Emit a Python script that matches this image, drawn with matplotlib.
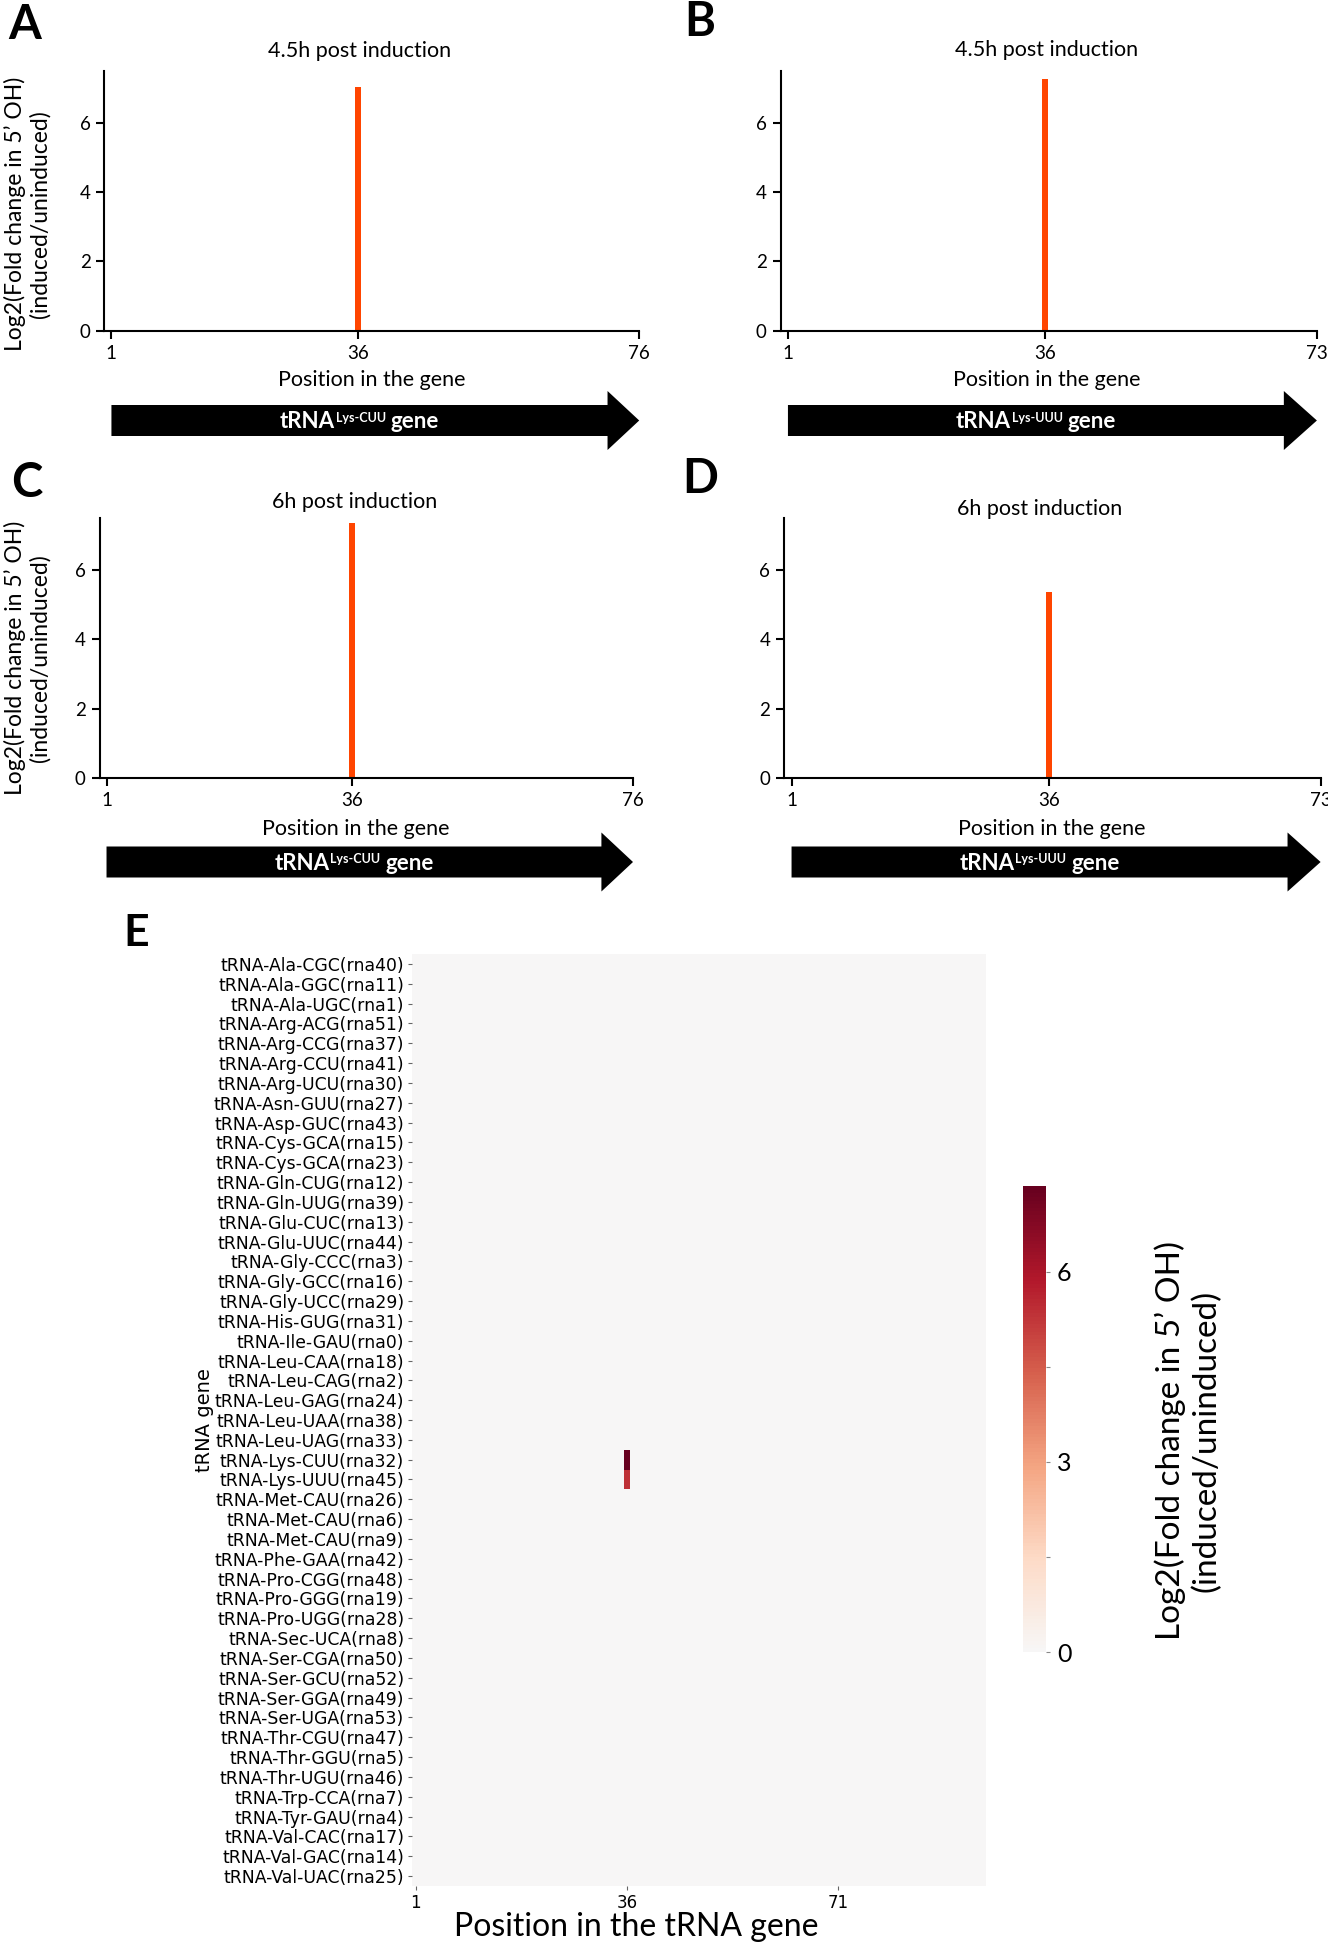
import numpy as np
import matplotlib
matplotlib.use('Agg')
import matplotlib.pyplot as plt
from matplotlib.colors import ListedColormap, Normalize
from matplotlib.patches import Polygon
from matplotlib.transforms import blended_transform_factory

plt.rcParams['font.family'] = ['Lato', 'DejaVu Sans']

# ---- data, panels A-D ----
panel_letters = ['A', 'B', 'C', 'D']
panel_titles = ['4.5h post induction', '4.5h post induction',
                '6h post induction', '6h post induction']
gene_names = ['Lys-CUU', 'Lys-UUU', 'Lys-CUU', 'Lys-UUU']
gene_lengths = [76, 73, 76, 73]
peak_positions = [36, 36, 36, 36]
peak_values = [7.03, 7.25, 7.35, 5.36]
y_ticks = [0, 2, 4, 6]

# ---- data, panel E ----
trna_genes = [
    'tRNA-Ala-CGC(rna40)', 'tRNA-Ala-GGC(rna11)', 'tRNA-Ala-UGC(rna1)',
    'tRNA-Arg-ACG(rna51)', 'tRNA-Arg-CCG(rna37)', 'tRNA-Arg-CCU(rna41)',
    'tRNA-Arg-UCU(rna30)', 'tRNA-Asn-GUU(rna27)', 'tRNA-Asp-GUC(rna43)',
    'tRNA-Cys-GCA(rna15)', 'tRNA-Cys-GCA(rna23)', 'tRNA-Gln-CUG(rna12)',
    'tRNA-Gln-UUG(rna39)', 'tRNA-Glu-CUC(rna13)', 'tRNA-Glu-UUC(rna44)',
    'tRNA-Gly-CCC(rna3)', 'tRNA-Gly-GCC(rna16)', 'tRNA-Gly-UCC(rna29)',
    'tRNA-His-GUG(rna31)', 'tRNA-Ile-GAU(rna0)', 'tRNA-Leu-CAA(rna18)',
    'tRNA-Leu-CAG(rna2)', 'tRNA-Leu-GAG(rna24)', 'tRNA-Leu-UAA(rna38)',
    'tRNA-Leu-UAG(rna33)', 'tRNA-Lys-CUU(rna32)', 'tRNA-Lys-UUU(rna45)',
    'tRNA-Met-CAU(rna26)', 'tRNA-Met-CAU(rna6)', 'tRNA-Met-CAU(rna9)',
    'tRNA-Phe-GAA(rna42)', 'tRNA-Pro-CGG(rna48)', 'tRNA-Pro-GGG(rna19)',
    'tRNA-Pro-UGG(rna28)', 'tRNA-Sec-UCA(rna8)', 'tRNA-Ser-CGA(rna50)',
    'tRNA-Ser-GCU(rna52)', 'tRNA-Ser-GGA(rna49)', 'tRNA-Ser-UGA(rna53)',
    'tRNA-Thr-CGU(rna47)', 'tRNA-Thr-GGU(rna5)', 'tRNA-Thr-UGU(rna46)',
    'tRNA-Trp-CCA(rna7)', 'tRNA-Tyr-GAU(rna4)', 'tRNA-Val-CAC(rna17)',
    'tRNA-Val-GAC(rna14)', 'tRNA-Val-UAC(rna25)',
]
n_positions = 95
hot_genes = ['tRNA-Lys-CUU(rna32)', 'tRNA-Lys-UUU(rna45)']
hot_position = 36
hot_values = [7.35, 5.36]
heat_xticks = [1, 36, 71]
cbar_ticks = [0, 1.5, 3, 4.5, 6]
cbar_ticklabels = ['0', '', '3', '', '6']

ylab = 'Log2(Fold change in 5\u2019 OH)\n(induced/uninduced)'

W, H = 1328, 1943
fig = plt.figure(figsize=(W / 100, H / 100), dpi=100)


def fbox(x0, y0, x1, y1):
    # pixel box (top-left origin) -> figure fraction rect
    return [x0 / W, 1 - y1 / H, (x1 - x0) / W, (y1 - y0) / H]


def ftext(x, y, s, **kw):
    return fig.text(x / W, 1 - y / H, s, **kw)


# layout of the four small panels (pixels)
boxes = [(104.4, 70.6, 639.2, 330.8), (780.6, 70.6, 1316.9, 330.8),
         (99.5, 518, 633, 778), (784.2, 518, 1320.6, 778)]
title_xy = [(360, 51), (1047, 50), (355, 502), (1040, 509)]
xlabel_xy = [(372, 380), (1047, 380), (356, 829), (1052, 829)]
letter_xy = [(25, 25), (700, 22), (27, 483), (700, 479)]
arrow_yc = [420.5, 420.5, 862, 862]
head_len = 4.5

axes = []
for i in range(4):
    ax = fig.add_axes(fbox(*boxes[i]))
    ax.bar(peak_positions[i], peak_values[i], width=0.8, color='#ff4500')
    ax.set_xlim(0, gene_lengths[i])
    ax.set_ylim(0, 7.5)
    ax.set_xticks([1, 36, gene_lengths[i]])
    ax.set_yticks(y_ticks)
    for s in ['top', 'right']:
        ax.spines[s].set_visible(False)
    for s in ['left', 'bottom']:
        ax.spines[s].set_linewidth(1.5)
    ax.tick_params(labelsize=13.5, length=6, width=1.5, pad=4)
    ftext(*title_xy[i], panel_titles[i], fontsize=15.5, ha='center', va='center')
    ftext(*xlabel_xy[i], 'Position in the gene', fontsize=15.5,
          ha='center', va='center')
    ftext(*letter_xy[i], panel_letters[i], fontsize=34, weight='bold',
          ha='center', va='center')

    # gene arrow below the axis
    tr = blended_transform_factory(ax.transData, fig.transFigure)
    yc = arrow_yc[i]
    xe = gene_lengths[i]
    xh = xe - head_len
    verts = [(1, yc - 15.5), (xh, yc - 15.5), (xh, yc - 29.5), (xe, yc),
             (xh, yc + 29.5), (xh, yc + 15.5), (1, yc + 15.5)]
    verts = [(vx, 1 - vy / H) for vx, vy in verts]
    fig.add_artist(Polygon(verts, closed=True, transform=tr,
                           facecolor='black', edgecolor='none'))
    axes.append(ax)

ftext(27, 214, ylab, fontsize=16.5, rotation=90, ha='center', va='center',
      multialignment='center')
ftext(27, 658, ylab, fontsize=16.5, rotation=90, ha='center', va='center',
      multialignment='center')

# ---- panel E heatmap ----
mat = np.zeros((len(trna_genes), n_positions))
for g, v in zip(hot_genes, hot_values):
    mat[trna_genes.index(g), hot_position - 1] = v

cmap = ListedColormap(plt.get_cmap('RdBu_r')(np.linspace(0.5, 1, 256)))
norm = Normalize(vmin=0, vmax=mat.max())

axe = fig.add_axes(fbox(412.5, 954, 986, 1886))
mesh = axe.pcolormesh(np.arange(n_positions + 1), np.arange(len(trna_genes) + 1),
                      mat, cmap=cmap, norm=norm, shading='flat',
                      edgecolors='none', antialiased=False)
axe.set_xlim(0, n_positions)
axe.set_ylim(len(trna_genes), 0)
for s in axe.spines.values():
    s.set_visible(False)
axe.set_yticks(np.arange(len(trna_genes)) + 0.5)
axe.set_yticklabels(trna_genes, fontsize=12.4, family='DejaVu Sans')
axe.set_xticks(np.array(heat_xticks) - 0.5)
axe.set_xticklabels([str(t) for t in heat_xticks], fontsize=12,
                    family='DejaVu Sans')
axe.tick_params(length=3, width=0.8, color='#666666', pad=3)

ftext(136, 933, 'E', fontsize=32, weight='bold', ha='center', va='center')
ftext(205, 1420, 'tRNA gene', fontsize=14, family='DejaVu Sans',
      rotation=90, ha='center', va='center')
ftext(636, 1927, 'Position in the tRNA gene', fontsize=23,
      ha='center', va='center')

cax = fig.add_axes(fbox(1023, 1186, 1046, 1652))
cb = fig.colorbar(mesh, cax=cax)
cb.outline.set_visible(False)
cb.set_ticks(cbar_ticks)
cb.set_ticklabels(cbar_ticklabels)
cax.tick_params(labelsize=18, length=3, width=0.8, color='#888888', pad=5)
ftext(1188, 1441, ylab, fontsize=24, rotation=90, ha='center', va='center',
      multialignment='center')

# ---- labels inside the arrows (tRNA^{Lys-xxx} gene) ----
rend = fig.canvas.get_renderer()
for i, ax in enumerate(axes):
    cx = ax.transData.transform(((1 + gene_lengths[i] - head_len) / 2, 0))[0]
    yc = arrow_yc[i]
    base = 1 - (yc + 8) / H
    sup_base = 1 - (yc + 1.0) / H
    t1 = fig.text(0, base, 'tRNA', fontsize=16, weight='bold', color='white',
                  va='baseline')
    t2 = fig.text(0, sup_base, gene_names[i], fontsize=9, weight='bold',
                  color='white', va='baseline')
    t3 = fig.text(0, base, 'gene', fontsize=16, weight='bold', color='white',
                  va='baseline')
    w1 = t1.get_window_extent(rend).width
    w2 = t2.get_window_extent(rend).width
    w3 = t3.get_window_extent(rend).width
    gap = 5
    x0 = cx - (w1 + 1 + w2 + gap + w3) / 2
    t1.set_x(x0 / W)
    t2.set_x((x0 + w1 + 1) / W)
    t3.set_x((x0 + w1 + 1 + w2 + gap) / W)

fig.savefig('out.png', dpi=100)
